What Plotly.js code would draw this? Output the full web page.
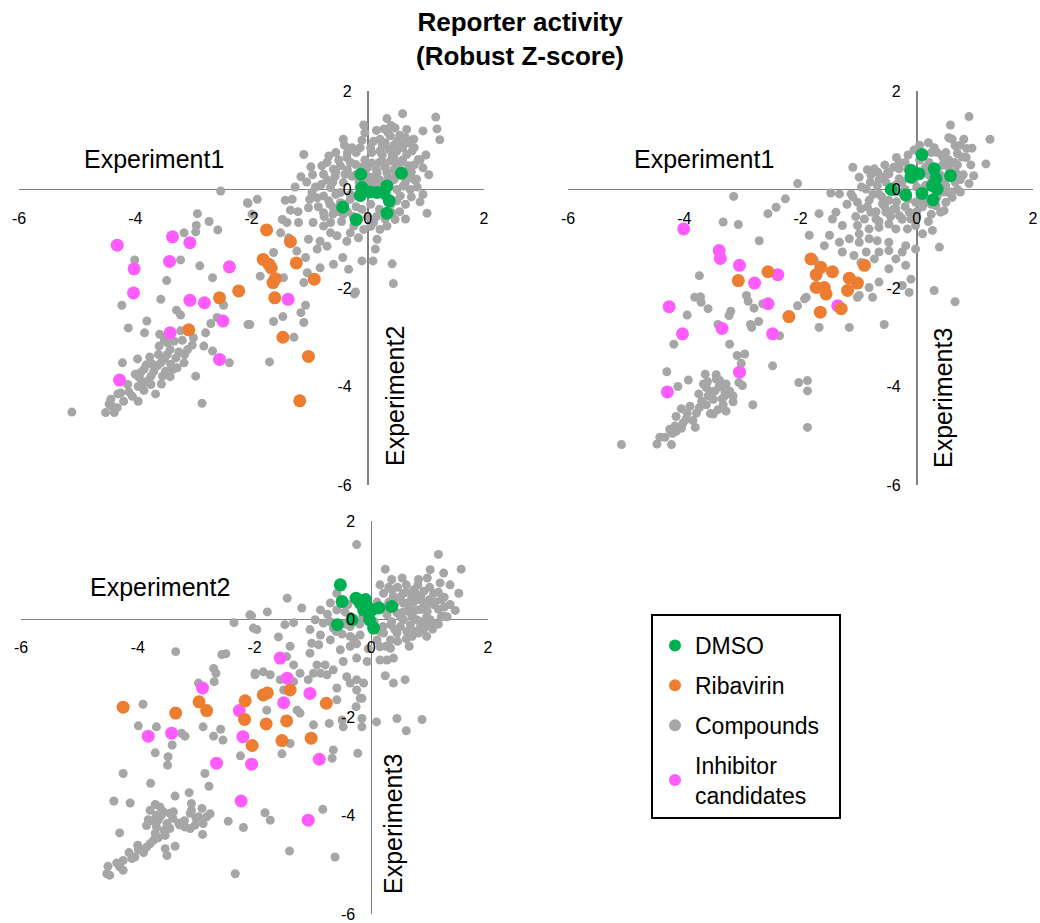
<!DOCTYPE html>
<html><head><meta charset="utf-8">
<script src="https://cdn.plot.ly/plotly-3.0.1.min.js"></script>
<style>html,body{margin:0;padding:0;background:#fff}#chart{width:1040px;height:923px}</style>
</head><body><div id="chart"></div>
<script>
// ---------- tick labels ----------
const tickVals = [-6, -4, -2, 0, 2];
const tickText = ['-6', '-4', '-2', '0', '2'];
const categories = ['DMSO', 'Ribavirin', 'Compounds', 'Inhibitor<br>candidates'];

// ---------- Panel 1: Experiment1 (x) vs Experiment2 (y) ----------
const p1_dmso_x = [-0.12, 0.58, -0.10, 0.04, -0.13, 0.33, 0.28, 0.37, 0.33, 0.16, -0.43, -0.20];
const p1_dmso_y = [0.31, 0.33, 0.04, -0.05, -0.12, 0.07, -0.06, -0.23, -0.48, -0.06, -0.36, -0.61];
const p1_riba_x = [-1.74, -1.33, -1.80, -1.70, -1.66, -1.23, -1.59, -1.63, -0.92, -1.60, -2.22, -2.55, -3.08, -1.46, -1.02, -1.17];
const p1_riba_y = [-0.82, -1.06, -1.42, -1.52, -1.59, -1.49, -1.81, -1.89, -1.82, -2.20, -2.06, -2.20, -2.85, -3.00, -3.39, -4.29];
const p1_inh_x = [-4.31, -3.36, -3.06, -4.02, -3.41, -2.38, -4.03, -3.06, -2.81, -2.49, -3.40, -2.55, -4.27, -1.37];
const p1_inh_y = [-1.13, -0.96, -1.08, -1.61, -1.46, -1.57, -2.10, -2.25, -2.30, -2.67, -2.91, -3.45, -3.87, -2.23];
const p1_cmp_x = [-2.53,-2.06,-2.93,-2.95,-2.73,-2.58,-3.16,-2.96,-4.01,-3.22,-2.89,-2.67,-3.46,-3.56,-4.23,-2.48,-3.29,-3.22,-3.80,-4.12,-3.84,-2.59,-2.70,-2.06,-3.58,-3.22,-3.00,-2.79,-3.59,-3.45,-3.33,-3.19,-3.02,-2.82,-2.67,-2.38,-3.45,-3.30,-3.16,-3.39,-3.56,-3.62,-3.48,-3.28,-3.68,-3.53,-4.22,-3.96,-3.81,-2.96,-3.91,-3.93,-3.79,-3.73,-3.85,-3.65,-4.13,-4.25,-4.11,-4.42,-4.45,-4.51,-4.36,-4.31,-5.09,-2.85,-3.85,-3.73,
 0.60,1.17,0.33,-0.07,1.19,1.24,0.95,0.28,0.47,0.67,-0.42,-1.10,-0.67,-0.27,-0.13,-0.98,-1.15,-0.79,-0.76,-0.59,-0.47,-0.56,-0.39,-0.96,-0.87,-0.76,-0.64,-0.67,-0.59,-1.02,-0.76,-0.42,0.90,1.02,0.73,0.84,0.95,0.87,0.76,0.79,
 0.10,0.21,0.39,0.50,0.61,0.07,0.21,0.36,0.50,0.67,0.07,0.24,0.39,0.56,0.70,0.16,0.33,0.47,0.70,-0.01,0.50,0.61,0.50,0.56,0.42,0.47,0.33,0.21,0.16,0.13,0.10,-0.07,-0.24,-0.30,-0.16,-0.36,-0.36,-0.21,-0.42,-0.27,-0.47,-0.30,-0.47,
 -2.07,-1.90,-1.42,-1.33,-1.99,-1.47,-1.39,-1.19,-0.94,-0.76,-0.64,-1.50,-1.36,-1.02,-0.82,-0.64,-0.53,-1.62,-1.22,-0.87,-1.07,-0.70,-0.43,-0.33,-0.10,0.09,0.42,0.44,-0.21,-0.59,-1.85,-1.45,-1.10,-1.04,-0.82,
 -1.07,-1.15,-1.10,-2.03,-1.62,-1.46,-1.27,-1.69,-0.23,
 0.00,0.12,0.25,-0.15,-0.20,0.05,0.20,-0.05,0.30,0.45,0.60,0.20,0.42,0.55,0.80,-0.60,-0.80,-0.35,0.00,-0.10,
 -0.50,-0.35,-0.20,-0.05,0.10,0.30,0.45,0.60,0.75,0.85,0.65,0.30,0.15,-0.10,-0.30,-0.55,-0.70,-0.85,-0.45,-0.60,0.05,0.25,0.45,0.65,-0.20,-0.40,0.15,0.40,0.80,1.00,1.05,0.95,-1.25,-1.05,-1.30,-0.25,0.00,-0.10,0.35,0.55,
 -3.40,-3.50,-3.35,-3.60,-3.70,-3.25,-3.55,-3.95,-4.05,-4.20,-3.15,-3.85,
 -0.70,-0.55,-0.30,-0.10,0.05,0.20,0.35,0.50,0.65,0.80,0.75,0.55,0.30,0.05,-0.15,-0.40,-0.65,-0.90,-0.95,-0.55,-0.15,0.25,0.45,0.60,0.15,-0.35,0.90,0.70,0.35,-0.05,-0.50,-0.75,0.40,0.65,-1.20,-1.00,
 -4.40,-4.00,-3.75,-3.50,-3.10,-3.40,-4.30,-3.95];
const p1_cmp_y = [-0.03,-0.28,-0.49,-0.73,-0.65,-0.82,-0.88,-0.86,-1.43,-1.43,-1.55,-1.79,-1.85,-2.23,-2.35,-2.35,-2.45,-2.55,-2.67,-2.81,-2.91,-2.60,-2.72,-2.74,-2.94,-2.87,-3.01,-2.91,-3.18,-3.11,-3.08,-3.06,-3.16,-3.18,-3.28,-3.52,-3.35,-3.42,-3.52,-3.55,-3.52,-3.58,-3.69,-3.62,-3.69,-3.79,-3.52,-3.44,-3.56,-3.79,-3.72,-3.82,-3.89,-3.96,-4.08,-4.15,-3.96,-4.13,-4.11,-4.26,-4.36,-4.53,-4.53,-4.43,-4.52,-4.34,-3.92,-3.79,
 1.54,1.47,1.44,1.31,1.23,1.01,1.19,1.23,1.25,1.22,1.02,0.71,0.68,0.85,0.85,0.46,0.26,0.48,0.31,0.41,0.48,0.27,0.31,-0.06,-0.17,-0.13,0.04,-0.23,-0.37,-0.37,-0.47,-0.50,-0.25,-0.48,0.00,0.21,0.44,0.61,0.78,1.02,
 0.98,1.02,1.09,0.98,0.92,0.75,0.78,0.82,0.78,0.71,0.54,0.58,0.58,0.54,0.48,0.34,0.34,0.24,0.27,0.21,0.00,0.07,-0.23,-0.13,-0.47,-0.61,-0.74,-0.81,-1.01,-1.21,-0.67,-0.81,-0.74,-0.88,-0.98,-1.05,0.65,0.51,0.14,0.27,-0.06,-0.20,-0.27,
 -0.27,-0.20,-0.22,-0.42,-0.50,-0.61,-0.67,-0.67,-0.67,-0.74,-0.67,-0.88,-0.98,-1.01,-1.05,-0.88,-0.94,-1.28,-1.25,-1.21,-1.38,-1.15,-1.38,-1.62,-1.45,-1.45,-1.51,-1.91,-2.08,-1.52,-1.76,-1.79,-1.89,-1.69,-1.59,
 -2.35,-2.50,-2.70,-2.74,-2.68,-2.58,-3.00,-3.50,-2.12,
 0.45,0.12,0.10,0.05,-0.35,-0.30,-0.40,0.60,0.95,0.40,0.30,0.20,0.70,1.10,0.50,0.15,0.10,-0.45,-0.55,1.00,
 0.60,0.40,0.30,0.35,0.25,0.45,0.20,0.60,0.35,0.05,-0.30,-0.15,-0.55,-0.40,-0.10,-0.10,0.20,-0.35,-0.65,-0.50,0.85,0.70,0.90,1.05,0.75,0.90,1.20,1.30,0.85,0.70,0.30,-0.10,0.05,0.15,-0.20,-0.55,0.10,-0.15,0.05,0.40,
 -3.25,-3.45,-3.65,-3.35,-3.55,-3.30,-3.95,-4.00,-4.20,-4.30,-3.35,-3.65,
 0.55,0.75,0.55,0.45,0.25,0.55,0.25,0.50,0.15,0.20,-0.15,-0.45,-0.60,-0.75,-0.60,-0.30,-0.30,0.05,0.30,0.35,0.15,0.90,0.65,0.85,0.40,0.75,0.60,0.95,1.15,1.15,-0.45,-0.55,-0.30,-0.60,-0.45,-0.20,
 -4.40,-3.75,-3.40,-3.05,-3.25,-3.80,-4.15,-4.30];

// ---------- Panel 2: Experiment1 (x) vs Experiment3 (y) ----------
const p2_dmso_x = [0.09, -0.10, 0.04, -0.10, 0.30, 0.58, 0.33, 0.27, 0.35, -0.44, -0.19, 0.09, 0.28];
const p2_dmso_y = [0.71, 0.39, 0.32, 0.25, 0.42, 0.28, 0.22, 0.08, 0.01, 0.00, -0.11, -0.08, -0.21];
const p2_riba_x = [-2.56, -3.07, -2.20, -1.82, -1.65, -1.73, -1.45, -0.90, -1.16, -1.02, -1.19, -1.73, -1.59, -1.56, -1.66, -1.30];
const p2_riba_y = [-1.67, -1.85, -2.58, -1.41, -1.58, -1.73, -1.67, -1.54, -1.80, -1.90, -2.05, -1.99, -1.99, -2.12, -2.49, -2.42];
const p2_inh_x = [-4.01, -3.40, -3.38, -3.05, -2.79, -2.39, -2.56, -4.26, -4.03, -3.35, -2.48, -3.05, -4.29, -1.36];
const p2_inh_y = [-0.80, -1.24, -1.40, -1.54, -1.90, -1.73, -2.32, -2.38, -2.93, -2.82, -2.93, -3.71, -4.11, -2.36];
const p2_cmp_x = [-3.15,-2.26,-2.42,-2.56,-3.33,-3.07,-2.71,-3.74,-2.93,-2.90,-3.82,-3.72,-3.71,-3.59,-2.80,-2.65,-3.20,-3.23,-3.95,-2.05,-1.90,-2.72,-2.86,-2.84,-3.42,-2.36,-4.18,-3.22,-3.09,-2.96,-3.02,-2.48,-4.30,-3.93,-4.11,
 -3.64,-3.45,-3.39,-3.28,-3.22,-3.16,-3.30,-3.47,-3.62,-3.67,-3.59,-3.50,-3.33,-3.42,-3.28,-3.62,-3.74,-3.79,-3.85,-3.97,-4.02,-4.14,-4.16,-4.25,-4.14,-4.33,-4.42,-4.47,-4.22,-5.08,-3.81,-3.50,-3.16,-3.00,-3.06,-2.82,-2.03,-1.88,-1.88,-1.88,
 -1.68,-1.16,-0.56,-1.02,-0.76,-0.13,
 0.90,0.58,1.26,0.61,0.81,0.66,0.86,0.95,0.44,0.70,0.78,0.93,1.19,0.98,0.90,0.66,0.75,0.61,0.50,0.33,0.47,0.41,-2.05,-1.48,-1.33,-1.13,-0.99,-0.79,-0.67,-1.10,-0.73,
 -0.87,-0.68,-0.53,-0.65,-0.82,-1.02,-0.96,-0.79,-0.59,-0.48,-0.36,-0.30,-0.53,-0.70,-0.90,-1.39,-1.45,-1.28,-1.02,-0.82,-0.65,-0.48,-0.25,-0.36,-0.16,-0.02,0.10,0.27,0.39,-0.02,-0.19,-0.48,-0.68,-0.82,-0.99,-1.16,-1.33,-1.50,-1.59,-1.28,-1.08,-0.87,-0.65,-0.48,-0.25,-0.36,-0.73,-0.96,-0.48,-0.19,-0.10,-0.25,-0.65,-0.82,-0.99,0.30,0.66,-1.93,
 -0.30,-0.30,-0.48,0.21,0.44,0.50,0.15,-0.02,0.15,-0.13,-0.36,0.52,0.67,-0.99,-1.68,-1.85,-1.76,
 0.20,0.35,0.55,0.05,-0.15,-0.55,0.70,0.25,0.00,-0.20,
 -0.20,-0.40,-0.60,-0.45,-0.25,0.00,0.20,0.40,0.55,0.70,0.80,0.60,0.35,0.10,-0.15,-0.35,-0.55,-0.75,-0.95,-0.85,0.05,0.30,0.50,-0.10,-0.45,-0.65,0.20,-1.20,-1.05,-0.35,
 -3.55,-3.40,-3.70,-3.95,-3.35,-3.60,-4.05,-3.90,
 -0.80,-0.65,-0.50,-0.35,-0.15,-0.05,0.15,0.25,0.45,0.60,0.75,0.65,0.45,0.25,-0.05,-0.30,-0.60,-0.40,-0.20,0.05,0.25,0.45,-0.85,-1.10,-0.70,0.85,0.75,0.55,-0.25,0.00,
 -3.75,-3.45,-3.30,-4.05,-4.20,-3.55];
const p2_cmp_y = [-0.14,-0.19,-0.36,-0.49,-0.66,-0.71,-1.04,-1.75,-2.15,-2.27,-2.19,-2.18,-2.29,-2.42,-2.41,-2.32,-2.47,-2.56,-2.55,-2.36,-2.19,-2.68,-2.74,-2.80,-2.74,-2.97,-3.14,-3.14,-3.37,-3.34,-3.53,-3.58,-3.70,-3.87,-4.00,
 -3.75,-3.76,-3.88,-3.95,-4.09,-4.19,-4.19,-4.09,-4.02,-3.95,-4.19,-4.26,-4.37,-4.47,-4.50,-4.37,-4.43,-4.54,-4.69,-4.67,-4.74,-4.61,-4.80,-4.87,-4.91,-5.03,-5.03,-5.17,-5.18,-5.18,-4.83,-4.56,-4.31,-3.98,-3.92,-4.37,-3.92,-3.88,-4.09,-4.83,
 -2.80,-2.80,-2.74,-2.19,-2.19,-2.09,
 1.48,1.31,1.02,1.02,1.02,0.89,0.83,0.84,0.69,0.73,0.66,0.50,0.52,0.28,0.12,0.15,-0.05,-0.16,-0.26,-0.33,-0.43,-0.46,0.12,-0.07,-0.09,-0.09,0.25,0.30,0.35,0.45,0.42,
 0.01,0.08,0.15,-0.09,-0.22,-0.26,-0.39,-0.46,-0.29,-0.22,-0.39,-0.53,-0.46,-0.60,-0.60,-0.46,-0.60,-0.73,-0.73,-0.80,-0.77,-0.70,-0.60,-0.80,-0.80,-0.73,-0.90,-0.83,-1.17,-1.21,-1.14,-1.07,-1.04,-1.00,-1.07,-1.00,-1.07,-0.93,-1.14,-1.27,-1.34,-1.27,-1.27,-1.24,-1.27,-1.41,-1.41,-1.48,-1.61,-1.54,-1.82,-1.95,-1.88,-1.99,-2.15,-2.05,-2.28,-2.22,
 0.42,0.22,0.32,0.55,0.49,0.08,0.08,-0.26,-0.26,-0.46,-0.05,-0.05,0.35,-0.90,-0.49,-0.93,-1.44,
 0.95,0.75,0.60,0.60,0.70,0.50,0.00,-0.50,-0.55,0.00,
 0.55,0.45,0.25,0.05,0.15,0.05,0.30,0.30,0.45,0.50,0.30,-0.05,-0.15,-0.35,-0.20,-0.25,-0.35,-0.10,0.05,0.40,0.90,0.85,0.75,-0.60,-0.55,-0.65,-0.65,-0.30,-0.55,0.65,
 -4.10,-4.00,-4.30,-4.55,-4.25,-3.90,-4.85,-4.40,
 0.15,0.20,0.35,0.10,0.40,0.20,0.45,0.15,0.15,0.30,0.20,0.55,0.65,0.75,0.80,0.55,-0.15,-0.40,-0.35,-0.20,-0.30,-0.05,-0.35,-0.15,-0.45,0.65,0.90,1.05,-0.60,-0.45,
 -4.15,-3.85,-4.10,-4.45,-4.95,-4.55];

// ---------- Panel 3: Experiment2 (x) vs Experiment3 (y) ----------
const p3_dmso_x = [-0.53, -0.50, -0.58, -0.33, -0.26, -0.19, -0.10, -0.13, -0.07, 0.01, 0.13, 0.35, -0.03, 0.04];
const p3_dmso_y = [0.70, 0.36, -0.11, -0.01, 0.43, 0.33, 0.40, 0.19, 0.26, 0.19, 0.23, 0.26, -0.01, -0.18];
const p3_riba_x = [-4.25, -3.35, -2.95, -2.82, -2.16, -2.17, -2.04, -1.85, -1.78, -1.39, -0.77, -1.80, -1.45, -1.53, -1.03];
const p3_riba_y = [-1.79, -1.91, -1.68, -1.86, -1.66, -2.04, -2.57, -1.54, -1.50, -1.44, -1.71, -2.13, -2.07, -2.47, -2.42];
const p3_inh_x = [-3.82, -3.42, -2.89, -2.26, -2.20, -2.65, -2.05, -2.23, -1.56, -1.44, -1.50, -1.05, -0.89, -1.08];
const p3_inh_y = [-2.38, -2.32, -1.40, -1.86, -2.39, -2.93, -2.95, -3.70, -0.79, -1.20, -1.70, -1.51, -2.85, -4.09];
const p3_cmp_x = [-2.35,-2.08,-1.96,-3.35,-2.56,-2.49,-1.99,-2.70,-2.66,-2.69,-2.96,-3.91,-3.99,-3.68,-3.25,-3.19,-2.88,-2.70,-2.58,-2.54,-3.41,-3.70,-3.48,-3.49,-2.24,-4.25,-2.85,-3.78,-2.78,-3.36,-3.12,-4.41,-4.13,
 -3.70,-3.62,-3.79,-3.56,-3.68,-3.39,-3.08,-3.08,-2.90,-2.76,-2.82,-2.96,-3.28,-3.19,-3.10,-3.02,-2.88,-2.89,-2.45,-2.19,-3.82,-3.65,-3.68,-3.50,-3.45,-3.53,-3.70,-3.73,-3.79,-3.85,-3.99,-4.05,-4.10,-4.25,-4.31,-4.25,-4.36,-4.51,-4.53,-4.48,-4.31,-3.53,-3.50,-3.36,-2.33,
 -0.25,1.15,1.54,0.24,1.01,0.35,0.53,0.81,0.96,1.24,1.18,1.35,1.50,-1.44,-1.19,-1.78,-2.05,1.44,1.24,-1.48,-1.33,-2.02,-1.59,-0.96,-0.87,-0.70,-0.59,-0.82,-0.65,-1.05,-0.87,-0.70,-1.02,-1.39,-1.45,-1.05,-0.90,-0.53,-0.36,-0.36,-0.19,-0.48,-0.25,-0.07,0.15,0.27,0.38,0.15,0.33,0.24,0.38,0.58,-0.79,-0.87,-0.76,-0.65,-0.42,-0.36,-0.25,-0.13,-0.59,-0.25,-0.19,-0.99,-0.93,-1.33,-1.22,-1.33,-1.50,-1.56,-1.73,-1.85,-1.99,-1.08,-0.59,
 0.21,0.38,0.55,0.73,0.90,1.07,0.55,0.73,0.90,1.07,0.78,0.96,0.67,0.44,0.27,0.55,0.78,1.01,0.33,0.50,0.67,0.84,1.07,0.21,0.44,0.61,0.81,0.33,0.10,-0.36,-0.36,-0.59,
 0.60,0.85,1.20,0.40,0.65,0.95,0.30,1.15,
 -0.16,-0.26,-0.16,-0.16,-0.48,-0.50,-0.72,-0.99,-1.27,-1.22,-1.79,-1.39,-1.53,-0.65,-0.67,-0.23,0.09,0.44,0.60,0.87,-1.82,-1.73,-0.83,-1.40,-0.62,
 0.10,0.25,0.40,0.55,0.70,0.85,1.00,1.15,1.25,0.90,0.70,0.45,0.20,0.05,-0.15,-0.30,-0.50,-0.70,-0.45,0.60,0.80,0.35,1.30,0.15,0.95,0.25,-0.05,0.65,
 -3.60,-3.40,-3.55,-3.75,-3.20,-3.00,-3.90,-3.65,
 0.15,0.30,0.50,0.65,0.80,0.95,1.10,1.25,1.35,1.20,1.05,0.85,0.70,0.50,0.35,0.15,0.40,0.60,0.75,0.95,1.15,0.45,0.75,1.00,-0.20,-0.45,-0.60,-0.75,-0.40,-0.25,
 -3.45,-3.30,-3.85,-4.00,-4.15,-3.10];
const p3_cmp_y = [-0.07,0.09,-0.21,-0.66,-0.72,-0.70,-1.13,-1.00,-1.10,-1.27,-1.30,-1.73,-2.17,-2.19,-2.32,-2.38,-2.19,-2.38,-2.24,-2.46,-2.56,-2.72,-2.80,-2.97,-2.78,-3.14,-3.14,-3.34,-3.40,-3.60,-3.53,-3.70,-3.74,
 -3.77,-3.82,-3.89,-3.92,-3.99,-3.92,-3.75,-3.89,-3.85,-3.96,-4.02,-4.02,-4.19,-4.23,-4.26,-4.19,-4.16,-4.38,-4.11,-4.24,-4.08,-4.09,-4.23,-4.16,-4.26,-4.40,-4.36,-4.50,-4.57,-4.64,-4.69,-4.84,-4.87,-4.91,-5.04,-5.11,-4.96,-5.03,-5.18,-5.21,-4.35,-4.67,-4.81,-4.62,-5.18,
 1.52,1.32,1.02,1.02,1.01,0.81,0.84,0.81,0.84,0.94,0.74,0.70,0.53,0.43,0.23,0.15,0.07,0.18,0.06,-0.11,-0.07,-0.18,-0.36,-0.01,0.19,0.33,0.19,-0.08,-0.18,-0.21,-0.32,-0.42,-0.49,-0.55,-0.76,-0.69,-0.52,-0.62,-0.55,-0.35,-0.32,-0.86,-0.79,-0.86,-0.83,-0.83,-0.79,-0.56,-0.59,-1.15,-1.30,-1.23,-0.93,-1.10,-1.13,-1.03,-1.17,-1.30,-1.23,-1.30,-1.40,-1.44,-1.61,-1.10,-0.93,-0.93,-1.10,-1.27,-1.44,-1.23,-1.13,-1.07,-1.10,-1.23,-1.64,
 0.53,0.47,0.53,0.60,0.57,0.53,0.33,0.36,0.33,0.30,0.19,0.16,0.13,0.13,0.09,-0.01,-0.01,-0.01,-0.11,-0.15,-0.11,-0.15,-0.08,-0.28,-0.28,-0.25,-0.28,-0.42,-0.42,-0.15,0.06,0.53,
 0.70,0.45,0.40,0.30,0.25,0.05,0.65,0.20,
 -1.61,-1.78,-2.02,-2.19,-2.19,-2.05,-2.12,-2.15,-1.85,-1.91,-1.85,-2.53,-2.74,-2.66,-2.83,-2.73,-2.09,-2.02,-2.27,-2.04,-3.94,-4.09,-3.87,-4.72,-4.84,
 0.35,0.25,0.40,0.15,0.45,0.20,0.40,0.55,0.25,-0.20,-0.35,-0.45,-0.15,-0.05,0.05,-0.40,-0.30,-0.05,0.15,0.55,0.70,0.60,0.05,0.70,-0.35,-0.55,-0.60,-0.55,
 -4.00,-4.05,-4.30,-4.10,-4.10,-4.05,-4.75,-4.45,
 0.20,0.35,0.45,0.35,0.40,0.30,0.35,0.45,0.30,0.05,-0.20,-0.05,0.05,0.05,-0.05,-0.25,-0.20,-0.40,-0.25,-0.10,-0.10,0.65,0.55,0.65,-0.10,-0.10,-0.25,0.10,0.30,-0.50,
 -3.95,-4.15,-4.20,-4.60,-4.75,-3.95];

// ---------- styling ----------
const W = 1040, H = 923;
const FONT = 'Liberation Sans, Arial, sans-serif';
const COL = {dmso: '#00b050', riba: '#ed7d31', cmp: '#a6a6a6', inh: '#ff5cff'};
const BIG = 13, SMALL = 9;

// panel placement in pixels: [left(-6), right(2)], [top(2), bottom(-6)]
const panels = [
  {xPx: [19, 484],  yPx: [91, 485]},
  {xPx: [568, 1033], yPx: [91, 485]},
  {xPx: [21, 488],  yPx: [521, 914]}
];

function xAxis(p) {
  const zeroPy = p.yPx[0] + (p.yPx[1] - p.yPx[0]) * 2 / 8;
  return {
    domain: [p.xPx[0] / W, p.xPx[1] / W], range: [-6, 2], anchor: 'free', position: 1 - zeroPy / H,
    showgrid: false, showline: false, ticks: '', zeroline: true, zerolinecolor: '#808080', zerolinewidth: 1.5,
    tickmode: 'array', tickvals: tickVals, ticktext: tickText, ticklabelstandoff: 17,
    tickfont: {family: FONT, size: 16, color: '#000'}, fixedrange: true
  };
}
function yAxis(p) {
  const zeroPx = p.xPx[0] + (p.xPx[1] - p.xPx[0]) * 6 / 8;
  return {
    domain: [1 - p.yPx[1] / H, 1 - p.yPx[0] / H], range: [-6, 2], anchor: 'free', position: zeroPx / W,
    showgrid: false, showline: false, ticks: '', zeroline: true, zerolinecolor: '#808080', zerolinewidth: 1.5,
    tickmode: 'array', tickvals: tickVals, ticktext: tickText, ticklabelstandoff: 16,
    tickfont: {family: FONT, size: 16, color: '#000'}, fixedrange: true
  };
}

const sets = [
  {xa: 'x', ya: 'y', cmp: [p1_cmp_x, p1_cmp_y], inh: [p1_inh_x, p1_inh_y], riba: [p1_riba_x, p1_riba_y], dmso: [p1_dmso_x, p1_dmso_y]},
  {xa: 'x2', ya: 'y2', cmp: [p2_cmp_x, p2_cmp_y], inh: [p2_inh_x, p2_inh_y], riba: [p2_riba_x, p2_riba_y], dmso: [p2_dmso_x, p2_dmso_y]},
  {xa: 'x3', ya: 'y3', cmp: [p3_cmp_x, p3_cmp_y], inh: [p3_inh_x, p3_inh_y], riba: [p3_riba_x, p3_riba_y], dmso: [p3_dmso_x, p3_dmso_y]}
];
const order = [
  {key: 'cmp', name: categories[2], rank: 3, size: SMALL},
  {key: 'inh', name: categories[3], rank: 4, size: BIG},
  {key: 'riba', name: categories[1], rank: 2, size: BIG},
  {key: 'dmso', name: categories[0], rank: 1, size: BIG}
];
const traces = [];
sets.forEach((s, i) => {
  order.forEach(o => {
    traces.push({
      type: 'scatter', mode: 'markers', x: s[o.key][0], y: s[o.key][1], xaxis: s.xa, yaxis: s.ya,
      name: o.name, legendgroup: o.key, legendrank: o.rank, showlegend: i === 0,
      marker: {color: COL[o.key], size: o.size, line: {width: 0}}, hoverinfo: 'x+y'
    });
  });
});

function ann(text, px, py, angle) {
  return {text: text, xref: 'paper', yref: 'paper', x: px / W, y: 1 - py / H, xanchor: 'center', yanchor: 'middle',
    showarrow: false, textangle: angle || 0, font: {family: FONT, size: 25, color: '#000'}};
}

const titleAnn = {text: '<b>Reporter activity</b><br><b>(Robust Z-score)</b>', xref: 'paper', yref: 'paper',
  x: 520 / W, y: 1 - 5 / H, xanchor: 'center', yanchor: 'top', showarrow: false,
  font: {family: FONT, size: 26, color: '#000'}};

const layout = {
  width: W, height: H, margin: {l: 0, r: 0, t: 0, b: 0},
  paper_bgcolor: '#fff', plot_bgcolor: 'rgba(0,0,0,0)',
  xaxis: xAxis(panels[0]), yaxis: yAxis(panels[0]),
  xaxis2: xAxis(panels[1]), yaxis2: yAxis(panels[1]),
  xaxis3: xAxis(panels[2]), yaxis3: yAxis(panels[2]),
  showlegend: true,
  legend: {x: 655 / W, y: 1 - 624 / H, xanchor: 'left', yanchor: 'top', bgcolor: 'rgba(0,0,0,0)', borderwidth: 0,
    font: {family: FONT, size: 23, color: '#000'}, itemsizing: 'constant', tracegroupgap: 7, traceorder: 'grouped'},
  shapes: [{type: 'rect', xref: 'paper', yref: 'paper', x0: 652 / W, x1: 840 / W, y0: 1 - 818 / H, y1: 1 - 615 / H,
    line: {color: '#000', width: 2}, fillcolor: 'rgba(0,0,0,0)'}],
  annotations: [
    titleAnn,
    ann('Experiment1', 154, 159), ann('Experiment2', 395, 396, -90),
    ann('Experiment1', 704, 159), ann('Experiment3', 943, 398, -90),
    ann('Experiment2', 160, 587), ann('Experiment3', 393, 824, -90)
  ]
};

Plotly.newPlot('chart', traces, layout, {displayModeBar: false, staticPlot: true});
</script></body></html>
